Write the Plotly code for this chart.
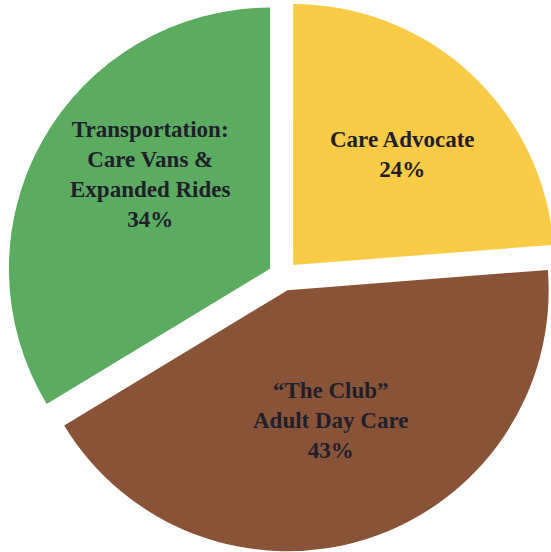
import plotly.graph_objects as go

labels = ["Care Advocate", "\u201cThe Club\u201d<br>Adult Day Care", "Transportation:<br>Care Vans &<br>Expanded Rides"]
values = [24, 43, 34]
colors = ["#F9CB47", "#895338", "#5BAB60"]
label_pos = [(402, 154), (330, 420), (150, 175)]  # pixel centres of text blocks

W, H = 566, 552

fig = go.Figure(go.Pie(
    labels=labels,
    values=values,
    sort=False,
    direction="clockwise",
    rotation=0,
    pull=[0.057, 0.057, 0.057],
    marker=dict(colors=colors, line=dict(width=0)),
    textinfo="none",
    hoverinfo="label+percent",
    showlegend=False,
    domain=dict(x=[0, 1], y=[0, 1]),
))

for lab, val, (px, py) in zip(labels, values, label_pos):
    fig.add_annotation(
        x=px / W, y=1 - py / H, xref="paper", yref="paper",
        text=f"<b>{lab}<br>{val}%</b>", showarrow=False,
        font=dict(family="Liberation Serif", size=23, color="#20202c"),
        align="center", xanchor="center", yanchor="middle",
    )

fig.update_layout(
    width=W, height=H,
    margin=dict(l=0, r=0, t=0, b=0),
    paper_bgcolor="white", plot_bgcolor="white",
)

fig.write_html("out.html")
